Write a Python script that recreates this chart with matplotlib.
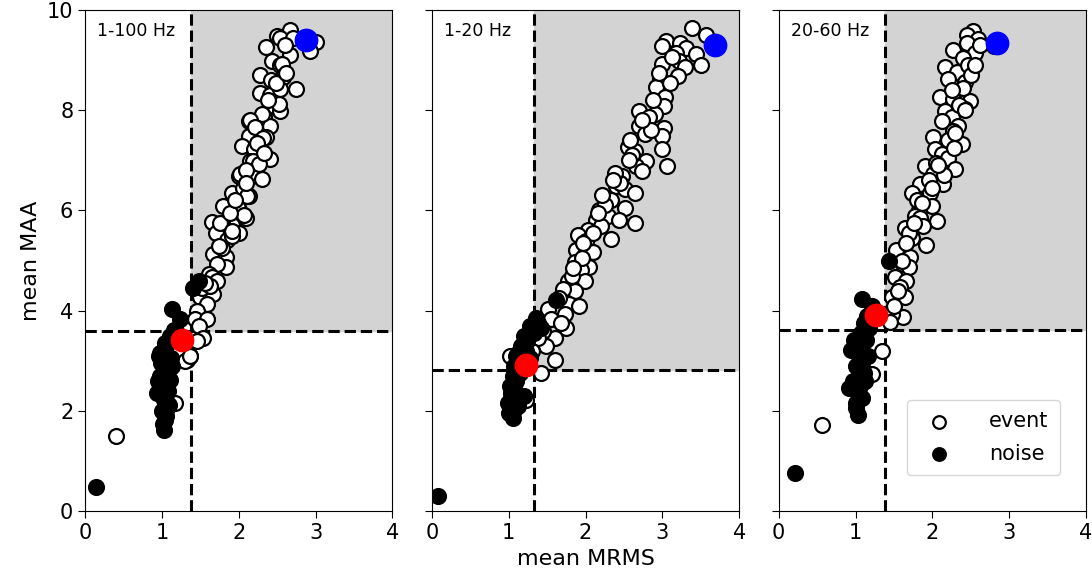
import numpy as np
import matplotlib
matplotlib.use("Agg")
import matplotlib.pyplot as plt

# panel titles and thresholds (mean MRMS, mean MAA)
bands = ["1-100 Hz", "1-20 Hz", "20-60 Hz"]
thr_mrms = [1.38, 1.33, 1.38]
thr_maa = [3.6, 2.81, 3.62]

# red = noise reference, blue = event reference
red_pts = [(1.26, 3.42), (1.22, 2.92), (1.26, 3.92)]
blue_pts = [(2.87, 9.40), (3.69, 9.29), (2.84, 9.33)]

#region data, 1-100 Hz
ev1_x = [2.67, 2.50, 2.54, 2.70, 3.00, 2.93, 2.36, 2.67, 2.43, 2.54, 2.28, 2.42, 2.57, 2.27, 2.40,
         2.75, 2.54, 2.46, 2.54, 2.33, 2.13, 2.41, 2.20, 2.35, 2.13, 2.04, 2.20, 2.41, 2.15, 2.24,
         2.00, 2.17, 2.30, 2.07, 1.91, 2.13, 1.98, 1.83, 2.00, 2.09, 1.91, 1.65, 1.78, 2.00, 1.70,
         1.85, 1.91, 1.67, 1.83, 1.83, 1.72, 1.61, 1.65, 1.72, 1.50, 1.67, 1.59, 1.46, 1.43, 1.59,
         1.48, 1.54, 1.46, 1.37, 1.33, 1.17, 0.40, 2.56, 2.52, 2.30, 2.15, 2.21, 2.32, 2.19, 2.26,
         2.02, 2.06, 2.11, 1.99, 1.80, 2.07, 1.76, 1.91, 1.30, 1.37, 1.52, 1.63, 1.78, 1.88, 2.10,
         2.60, 2.48, 2.38, 2.24, 2.09, 1.95, 1.74, 1.56, 2.62, 2.33]
ev1_y = [9.60, 9.47, 9.44, 9.44, 9.36, 9.18, 9.25, 9.10, 8.97, 8.90, 8.71, 8.61, 8.66, 8.35, 8.31,
         8.43, 8.42, 8.09, 7.99, 7.86, 7.79, 7.69, 7.59, 7.46, 7.49, 7.29, 7.22, 7.02, 6.99, 6.89,
         6.68, 6.68, 6.62, 6.45, 6.35, 6.28, 6.11, 6.08, 6.01, 5.85, 5.71, 5.76, 5.74, 5.54, 5.54,
         5.41, 5.48, 5.14, 5.07, 4.87, 4.94, 4.74, 4.67, 4.60, 4.27, 4.34, 4.13, 4.00, 3.83, 3.83,
         3.70, 3.46, 3.40, 3.09, 3.01, 2.15, 1.50, 8.92, 8.12, 7.92, 7.80, 7.66, 7.45, 6.99, 6.93,
         6.72, 6.45, 6.29, 6.05, 6.09, 5.90, 5.75, 5.59, 2.99, 3.09, 4.45, 4.50, 5.25, 5.95, 6.80,
         9.30, 8.55, 8.20, 7.35, 6.55, 6.20, 5.30, 4.55, 8.75, 7.15]
no1_x = [1.13, 1.24, 1.48, 1.41, 1.15, 1.09, 1.02, 0.96, 1.07, 1.13, 1.02, 1.11, 1.04, 0.93, 1.02,
         1.09, 1.00, 1.04, 1.02, 0.14, 0.98, 1.05, 1.10, 0.99, 1.06, 1.12, 1.00, 1.08, 1.03, 1.07,
         0.97, 1.05, 1.01, 1.10, 1.04, 1.18, 0.95, 1.06]
no1_y = [4.03, 3.83, 4.59, 4.45, 3.62, 3.42, 3.22, 3.09, 3.02, 2.89, 2.75, 2.62, 2.48, 2.35, 2.22,
         2.12, 1.99, 1.82, 1.62, 0.48, 3.15, 3.30, 3.50, 2.95, 2.80, 3.05, 2.55, 2.40, 2.30, 2.05,
         2.70, 1.90, 1.75, 2.85, 3.35, 3.60, 2.60, 2.15]
#endregion

#region data, 1-20 Hz
ev2_x = [3.38, 3.57, 3.05, 2.99, 3.23, 3.31, 3.44, 3.18, 3.22, 2.99, 3.30, 3.50, 3.20, 2.97, 2.92,
         3.04, 3.02, 2.70, 2.90, 2.83, 2.70, 3.02, 2.77, 2.99, 2.55, 2.64, 3.00, 2.79, 2.66, 3.06,
         2.47, 2.73, 2.40, 2.51, 2.64, 2.33, 2.51, 2.18, 2.29, 2.44, 2.64, 2.14, 2.20, 2.33, 2.03,
         1.90, 2.01, 1.88, 1.99, 2.10, 1.86, 2.05, 1.94, 1.77, 1.99, 1.86, 1.70, 1.79, 1.92, 1.51,
         1.73, 1.55, 1.75, 1.60, 1.49, 1.60, 1.42, 1.23, 1.01, 2.85, 2.60, 2.45, 2.25, 2.10, 1.95,
         1.82, 1.65, 1.45, 3.10, 2.88, 2.58, 2.38, 2.22, 1.68, 1.38, 1.30, 3.12, 2.95, 2.74, 2.57,
         2.36, 2.16, 1.97, 1.84]
ev2_y = [9.64, 9.50, 9.38, 9.28, 9.34, 9.23, 9.11, 9.13, 8.97, 8.91, 8.87, 8.90, 8.68, 8.62, 8.46,
         8.26, 8.09, 7.99, 7.93, 7.86, 7.69, 7.64, 7.52, 7.49, 7.26, 7.19, 7.23, 6.99, 6.89, 6.89,
         6.68, 6.79, 6.48, 6.42, 6.35, 6.21, 6.05, 6.01, 5.88, 5.81, 5.74, 5.81, 5.68, 5.42, 5.61,
         5.51, 5.38, 5.21, 5.14, 5.17, 4.97, 4.87, 4.81, 4.60, 4.60, 4.40, 4.44, 4.13, 4.10, 4.03,
         3.93, 3.83, 3.66, 3.46, 3.30, 3.01, 2.76, 2.22, 3.09, 7.60, 7.10, 6.55, 6.10, 5.55, 5.05,
         4.70, 4.25, 3.60, 8.55, 8.20, 7.40, 6.75, 6.30, 3.75, 3.45, 3.20, 9.05, 8.75, 7.80, 7.00,
         6.60, 5.95, 5.35, 4.85]
no2_x = [1.62, 1.38, 1.27, 1.20, 1.16, 1.09, 1.07, 1.05, 1.01, 1.03, 0.99, 1.07, 1.05, 1.20, 1.29,
         1.42, 0.08, 1.12, 1.14, 1.10, 1.18, 1.24, 1.33, 1.03, 1.08, 1.15, 1.00, 1.12, 1.35, 1.22,
         1.28, 1.06, 1.17]
no2_y = [4.22, 3.75, 3.69, 3.49, 3.29, 3.09, 2.89, 2.69, 2.49, 2.35, 2.15, 2.02, 1.85, 2.29, 3.62,
         3.65, 0.30, 3.15, 2.95, 2.60, 3.05, 3.40, 3.55, 2.25, 2.40, 2.75, 1.95, 2.10, 3.85, 3.20,
         3.05, 2.55, 2.85]
#endregion

#region data, 20-60 Hz
ev3_x = [2.53, 2.45, 2.60, 2.45, 2.27, 2.56, 2.80, 2.40, 2.17, 2.32, 2.47, 2.21, 2.43, 2.36, 2.49,
         2.10, 2.27, 2.17, 2.43, 2.25, 2.12, 2.34, 2.27, 2.01, 2.38, 2.03, 2.12, 2.21, 1.90, 2.01,
         2.30, 1.84, 2.14, 1.73, 1.97, 1.99, 1.82, 1.77, 1.84, 2.06, 1.88, 1.64, 1.73, 1.92, 1.53,
         1.71, 1.62, 1.69, 1.51, 1.66, 1.58, 1.47, 1.64, 1.62, 1.47, 1.45, 1.34, 1.21, 0.57, 2.50,
         2.35, 2.20, 2.05, 1.95, 1.80, 1.70, 1.60, 2.40, 2.30, 2.15, 2.00, 1.55, 1.50, 2.62, 2.25,
         2.55, 2.42, 2.28, 2.08, 1.86, 1.76, 1.66]
ev3_y = [9.57, 9.50, 9.42, 9.34, 9.20, 9.13, 9.27, 9.03, 8.87, 8.77, 8.90, 8.63, 8.56, 8.36, 8.19,
         8.26, 8.23, 7.99, 8.03, 7.86, 7.79, 7.69, 7.59, 7.46, 7.32, 7.22, 7.12, 7.05, 6.89, 6.72,
         6.83, 6.52, 6.52, 6.35, 6.35, 6.08, 6.01, 5.88, 5.85, 5.78, 5.68, 5.64, 5.44, 5.31, 5.22,
         5.07, 4.94, 4.87, 4.67, 4.60, 4.47, 4.27, 4.27, 3.87, 3.93, 3.77, 3.19, 2.74, 1.73, 8.70,
         8.10, 7.40, 6.95, 6.60, 6.20, 5.55, 5.00, 8.45, 7.55, 6.70, 6.45, 4.40, 4.10, 9.30, 8.40,
         8.90, 8.00, 7.25, 6.90, 6.15, 5.75, 5.35]
no3_x = [1.44, 1.09, 1.22, 1.11, 1.07, 0.98, 0.94, 1.05, 1.00, 1.11, 0.92, 1.05, 1.00, 1.03, 1.14,
         1.16, 0.21, 1.02, 1.08, 1.12, 0.97, 1.06, 1.10, 1.15, 1.01, 1.04, 1.18, 1.09]
no3_y = [4.99, 4.23, 4.09, 3.75, 3.55, 3.42, 3.22, 3.09, 2.89, 2.75, 2.45, 2.32, 2.15, 1.92, 3.42,
         3.09, 0.76, 3.35, 2.95, 2.60, 2.60, 2.50, 3.55, 3.90, 2.05, 2.80, 3.65, 2.25]
#endregion

events = [(ev1_x, ev1_y), (ev2_x, ev2_y), (ev3_x, ev3_y)]
noise = [(no1_x, no1_y), (no2_x, no2_y), (no3_x, no3_y)]

#plottingregion
fig, axes = plt.subplots(1, 3, sharey=True, figsize=(10.92, 5.79), dpi=100)
fig.subplots_adjust(left=0.078, right=0.9945, top=0.983, bottom=0.117, wspace=0.1285)

for i, ax in enumerate(axes):
    tx, ty = thr_mrms[i], thr_maa[i]
    # grey box = detection region
    ax.fill_between([tx, 4], ty, 10, color="lightgrey", zorder=0)
    ax.axvline(tx, color="k", ls="--", lw=2.2, zorder=1)
    ax.axhline(ty, color="k", ls="--", lw=2.2, zorder=1)

    ax.scatter(events[i][0], events[i][1], s=115, facecolor="white", edgecolor="k",
               linewidth=1.6, zorder=2, label="event")
    ax.scatter(noise[i][0], noise[i][1], s=115, facecolor="k", edgecolor="k",
               linewidth=1.6, zorder=3, label="noise")
    ax.scatter(*red_pts[i], s=260, color="red", zorder=4)
    ax.scatter(*blue_pts[i], s=260, color="blue", zorder=4)

    ax.text(0.04, 0.975, bands[i], transform=ax.transAxes, ha="left", va="top", fontsize=12.5)
    ax.set_xlim(0, 4)
    ax.set_ylim(0, 10)
    ax.set_xticks([0, 1, 2, 3, 4])
    ax.tick_params(labelsize=15, length=5)

axes[0].set_yticks([0, 2, 4, 6, 8, 10])
axes[0].set_ylabel("mean MAA", fontsize=16)
axes[1].set_xlabel("mean MRMS", fontsize=16)
axes[2].legend(loc="lower right", bbox_to_anchor=(0.916, 0.072), borderaxespad=0, fontsize=15,
               markerscale=0.85, handletextpad=1.4, labelspacing=0.6, borderpad=0.55)

plt.savefig("out.png")
#endregion
